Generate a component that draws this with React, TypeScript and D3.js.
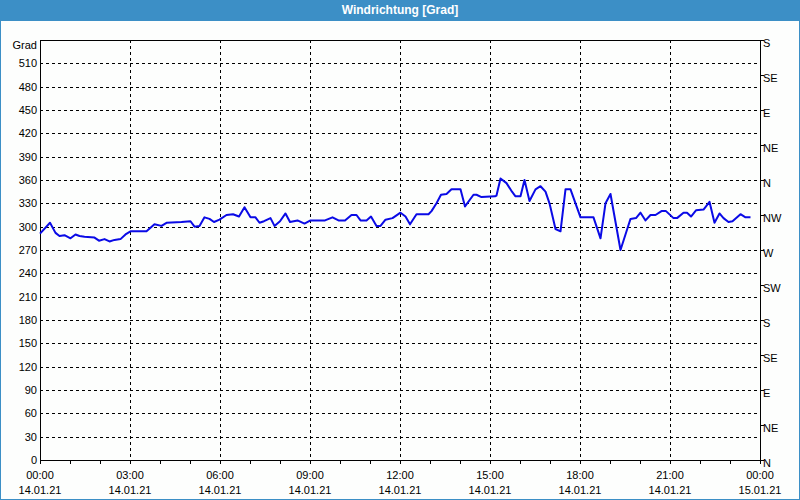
import React, { useEffect } from 'react';
import * as d3 from 'd3';

// minutes after 14.01.21 00:00
const minutes = [
  0, 20, 31, 39, 49, 61, 71, 79, 89, 109, 118, 129, 139, 149, 161, 171, 181, 213, 229, 243,
  253, 283, 301, 309, 319, 329, 339, 348, 359, 373, 386, 398, 409, 421, 431, 439, 448, 461, 469, 480,
  491, 500, 515, 529, 541, 570, 585, 597, 610, 623, 633, 641, 653, 662, 673, 681, 691, 705, 721, 731,
  740, 753, 777, 783, 793, 802, 813, 823, 841, 850, 867, 873, 883, 910, 913, 921, 933, 944, 951, 961,
  969, 979, 991, 1001, 1011, 1019, 1031, 1041, 1051, 1061, 1081, 1107, 1121, 1131, 1141, 1161, 1174, 1181, 1192, 1201,
  1211, 1221, 1231, 1243, 1252, 1267, 1274, 1287, 1294, 1302, 1312, 1327, 1339, 1349, 1359, 1367, 1377, 1385, 1401, 1411,
  1421,
];
const direction = [
  291, 305, 292, 288, 289, 285, 290, 288, 287, 286, 282, 284, 281, 283, 284, 290, 294, 294, 303, 301,
  305, 306, 307, 300, 301, 312, 310, 306, 309, 315, 316, 313, 325, 312, 312, 305, 307, 311, 301, 307,
  317, 306, 308, 304, 308, 308, 312, 308, 308, 315, 315, 308, 308, 313, 301, 301, 309, 311, 318, 313,
  303, 316, 316, 320, 330, 341, 342, 348, 348, 326, 341, 341, 338, 339, 340, 362, 356, 345, 339, 339,
  360, 333, 348, 352, 345, 330, 297, 294, 348, 348, 312, 312, 285, 330, 342, 270, 296, 310, 311, 318,
  308, 315, 315, 320, 320, 311, 311, 318, 318, 313, 321, 322, 332, 305, 317, 311, 306, 307, 316, 312,
  312,
];

const leftTicks = d3.range(0, 511, 30);
const compassValues = [0, 45, 90, 135, 180, 225, 270, 315, 360, 405, 450, 495, 540];
const compassLabels = ['N', 'NE', 'E', 'SE', 'S', 'SW', 'W', 'NW', 'N', 'NE', 'E', 'SE', 'S'];
const hourTicks = d3.range(0, 25);
const majorHours = d3.range(0, 25, 3);

const W = 800;
const H = 500;
const left = 40;
const right = 760;
const top = 40;
const bottom = 460;
const font = '"Liberation Sans", Arial, sans-serif';

export default function App() {
  useEffect(() => {
    document.body.style.margin = '0';
  }, []);

  const x = d3.scaleLinear().domain([0, 1440]).range([left, right]);
  const y = d3.scaleLinear().domain([0, 540]).range([bottom, top]);

  const line = d3
    .line<number>()
    .x((_, i) => x(minutes[i]))
    .y((d) => y(d));

  const pad = (n: number) => String(n).padStart(2, '0');

  return (
    <svg width={W} height={H} style={{ display: 'block', fontFamily: font }}>
      <rect x={0} y={0} width={W} height={H} fill="#fdfefd" />
      <rect x={0.5} y={0.5} width={W - 1} height={H - 1} fill="none" stroke="#3c8fc6" />
      <rect x={0} y={0} width={W} height={21} fill="#3c8fc6" />
      <text x={W / 2} y={14} textAnchor="middle" fill="#fff" fontSize={12} fontWeight="bold">
        Windrichtung [Grad]
      </text>

      {/* grid */}
      <g stroke="#000" strokeDasharray="3,3" strokeWidth={1}>
        {leftTicks.slice(1).map((v) => (
          <line key={'h' + v} x1={left} x2={right} y1={Math.round(y(v)) + 0.5} y2={Math.round(y(v)) + 0.5} />
        ))}
        {majorHours.slice(1, -1).map((h) => (
          <line key={'v' + h} x1={x(h * 60) + 0.5} x2={x(h * 60) + 0.5} y1={top} y2={bottom} />
        ))}
      </g>

      {/* frame */}
      <g stroke="#000" fill="none">
        <line x1={left + 0.5} x2={left + 0.5} y1={top} y2={bottom + 1} />
        <line x1={right + 0.5} x2={right + 0.5} y1={top} y2={bottom + 1} />
        <line x1={left} x2={right + 1} y1={top + 0.5} y2={top + 0.5} />
        <line x1={left} x2={right + 1} y1={bottom + 0.5} y2={bottom + 0.5} />
        {hourTicks.map((h) => (
          <line key={'t' + h} x1={x(h * 60) + 0.5} x2={x(h * 60) + 0.5} y1={bottom} y2={bottom + 4} />
        ))}
        {compassValues.map((v) => (
          <line key={'c' + v} x1={right} x2={right + 4} y1={Math.round(y(v)) + 0.5} y2={Math.round(y(v)) + 0.5} />
        ))}
      </g>

      {/* left axis labels */}
      <g fontSize={11} fill="#000" textAnchor="end">
        <text x={37} y={49}>Grad</text>
        {leftTicks.map((v) => (
          <text key={'l' + v} x={37} y={y(v) + 4}>
            {v}
          </text>
        ))}
      </g>

      {/* right axis labels */}
      <g fontSize={11} fill="#000">
        {compassValues.map((v, i) => (
          <text key={'r' + v} x={763} y={y(v) + 7}>
            {compassLabels[i]}
          </text>
        ))}
      </g>

      {/* bottom axis labels */}
      <g fontSize={11} fill="#000" textAnchor="middle">
        {majorHours.map((h) => (
          <g key={'b' + h}>
            <text x={x(h * 60)} y={479}>
              {pad(h % 24)}:00
            </text>
            <text x={x(h * 60)} y={494}>
              {h === 24 ? '15.01.21' : '14.01.21'}
            </text>
          </g>
        ))}
      </g>

      <path d={line(direction) || ''} fill="none" stroke="#0a0ae6" strokeWidth={2} strokeLinejoin="round" />
    </svg>
  );
}
